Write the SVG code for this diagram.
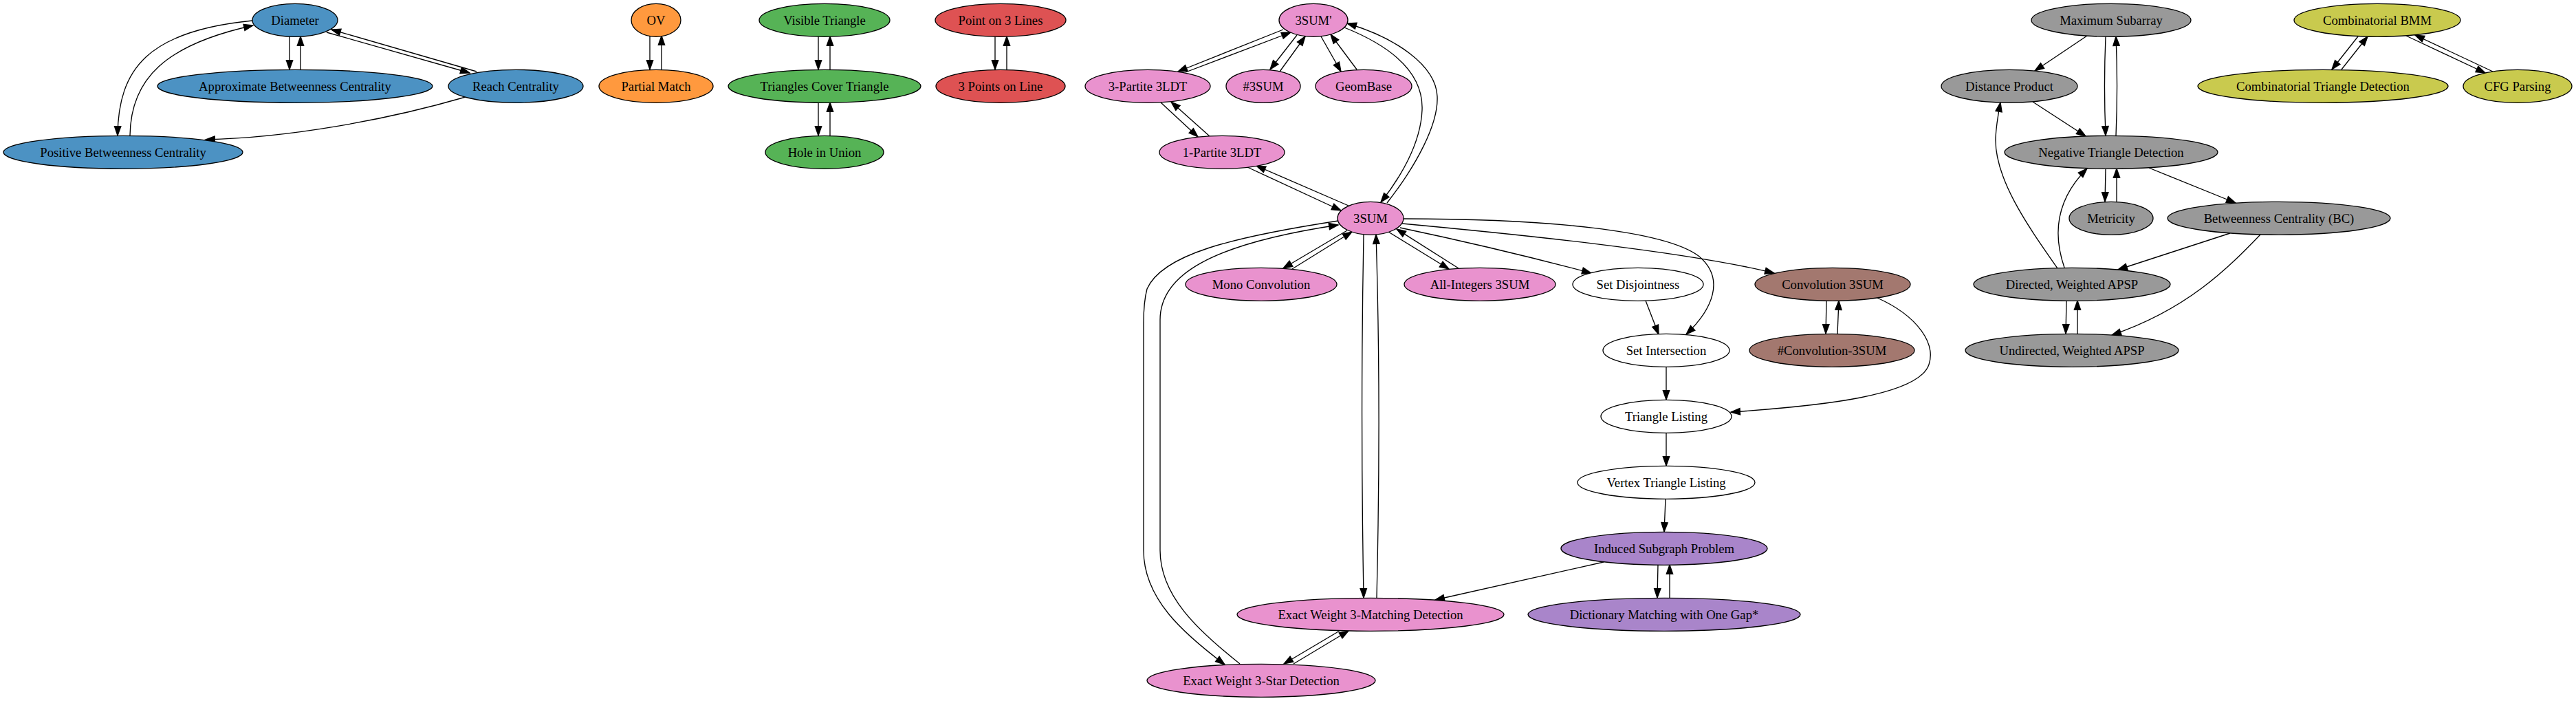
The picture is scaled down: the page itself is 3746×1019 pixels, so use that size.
<svg xmlns="http://www.w3.org/2000/svg" width="3746" height="1019" viewBox="0 0 3746 1019">
<style>
ellipse{stroke:#000;stroke-width:1.33}
text{font-family:"Liberation Serif","Times New Roman",serif;font-size:18.67px;text-anchor:middle;fill:#000}
.blue{fill:#4c92c3}.orange{fill:#ff993e}.green{fill:#56b356}.red{fill:#de5253}
.pink{fill:#e992ce}.brown{fill:#a3786f}.purple{fill:#a985ca}.gray{fill:#999999}
.olive{fill:#c9ca4e}.white{fill:#ffffff}
#edges path{fill:none;stroke:#000;stroke-width:1.33;marker-end:url(#ah)}
</style>
<defs>
<marker id="ah" markerUnits="userSpaceOnUse" markerWidth="16" markerHeight="12" viewBox="-1 -6 16 12" refX="13.33" refY="0" orient="auto" overflow="visible">
<path d="M0,-4.67 L13.33,0 L0,4.67 Z" fill="#000" stroke="#000" stroke-width="1.33"/>
</marker>
</defs>
<rect width="3746" height="1019" fill="#fff"/>
<g id="edges">
<path d="M421,53 L421,101"/>
<path d="M437,101 L437,53"/>
<path d="M475,47 L683,106"/>
<path d="M693,104 L482,43"/>
<path d="M367,30 C215,45 172,100 171,197"/>
<path d="M189,197 C190,115 240,65 368,37"/>
<path d="M677,141 C560,175 420,200 299,203"/>
<path d="M945,52 L945,101"/>
<path d="M962,101 L962,52"/>
<path d="M1190,53 L1190,101"/>
<path d="M1207,101 L1207,53"/>
<path d="M1190,149 L1190,197"/>
<path d="M1207,197 L1207,149"/>
<path d="M1447,53 L1447,101"/>
<path d="M1464,101 L1464,53"/>
<path d="M1866,43 L1713,104"/>
<path d="M1724,105 L1877,47"/>
<path d="M1886,51 L1847,101"/>
<path d="M1861,104 L1898,53"/>
<path d="M1921,53 L1950,104"/>
<path d="M1973,101 L1935,50"/>
<path d="M1688,149 L1742,199"/>
<path d="M1759,198 L1703,148"/>
<path d="M1814,243 L1950,306"/>
<path d="M1961,299 L1827,241"/>
<path d="M2017,295 C2060,240 2092,180 2090,140 C2088,95 2030,55 1959,34"/>
<path d="M1955,40 C2030,70 2070,110 2068,160 C2066,210 2035,260 2008,294"/>
<path d="M1959,335 L1866,390"/>
<path d="M1879,391 L1966,337"/>
<path d="M2019,337 L2107,391"/>
<path d="M2121,390 L2031,333"/>
<path d="M2036,331 C2150,355 2250,380 2314,397"/>
<path d="M2041,318 C2250,318 2420,335 2470,372 C2510,405 2490,450 2452,486"/>
<path d="M2039,325 C2200,340 2450,365 2580,397"/>
<path d="M2656,437 L2655,485"/>
<path d="M2672,485 L2674,437"/>
<path d="M2730,433 C2790,460 2815,500 2805,530 C2790,575 2650,590 2517,599"/>
<path d="M2393,437 L2412,486"/>
<path d="M2423,533 L2423,581"/>
<path d="M2423,629 L2423,677"/>
<path d="M2422,725 L2420,773"/>
<path d="M2411,821 L2410,869"/>
<path d="M2428,869 L2428,821"/>
<path d="M2332,817 L2087,872"/>
<path d="M1983,341 C1980,500 1980,700 1983,869"/>
<path d="M2002,869 C2006,700 2006,500 2001,341"/>
<path d="M1946,321 C1790,345 1690,370 1668,420 C1664,435 1663,450 1663,470 L1663,800 C1663,870 1720,920 1781,966"/>
<path d="M1803,965 C1740,915 1687,865 1687,800 L1687,465 C1687,400 1760,355 1946,327"/>
<path d="M1948,917 L1867,965"/>
<path d="M1881,965 L1961,917"/>
<path d="M3035,52 L2959,103"/>
<path d="M3062,53 C3060,100 3060,150 3062,197"/>
<path d="M3077,197 C3079,150 3079,100 3077,53"/>
<path d="M2956,148 L3033,198"/>
<path d="M2992,390 C2950,330 2900,260 2902,200 C2903,180 2906,165 2909,149"/>
<path d="M3002,389 C2985,340 2990,290 3035,245"/>
<path d="M3062,245 L3061,293"/>
<path d="M3078,293 L3078,245"/>
<path d="M3125,244 L3251,295"/>
<path d="M3243,339 L3080,392"/>
<path d="M3287,341 C3240,390 3180,450 3071,487"/>
<path d="M3005,437 L3004,485"/>
<path d="M3021,485 L3021,437"/>
<path d="M3429,53 L3391,101"/>
<path d="M3405,101 L3443,53"/>
<path d="M3499,52 L3614,106"/>
<path d="M3625,104 L3512,51"/>
</g>
<g id="n_diameter"><ellipse class="blue" cx="429" cy="29.3" rx="62" ry="24"/><text x="429" y="35.6">Diameter</text></g>
<g id="n_approx_bc"><ellipse class="blue" cx="429" cy="125.3" rx="200" ry="24"/><text x="429" y="131.6">Approximate Betweenness Centrality</text></g>
<g id="n_reach"><ellipse class="blue" cx="750" cy="125.3" rx="98" ry="24"/><text x="750" y="131.6">Reach Centrality</text></g>
<g id="n_positive_bc"><ellipse class="blue" cx="179" cy="221.3" rx="174" ry="24"/><text x="179" y="227.6">Positive Betweenness Centrality</text></g>
<g id="n_ov"><ellipse class="orange" cx="954" cy="29.3" rx="36" ry="24"/><text x="954" y="35.6">OV</text></g>
<g id="n_partial_match"><ellipse class="orange" cx="954" cy="125.3" rx="83" ry="24"/><text x="954" y="131.6">Partial Match</text></g>
<g id="n_visible_triangle"><ellipse class="green" cx="1199" cy="29.3" rx="95" ry="24"/><text x="1199" y="35.6">Visible Triangle</text></g>
<g id="n_triangles_cover"><ellipse class="green" cx="1199" cy="125.3" rx="140" ry="24"/><text x="1199" y="131.6">Triangles Cover Triangle</text></g>
<g id="n_hole_union"><ellipse class="green" cx="1199" cy="221.3" rx="86" ry="24"/><text x="1199" y="227.6">Hole in Union</text></g>
<g id="n_point_3lines"><ellipse class="red" cx="1455" cy="29.3" rx="95" ry="24"/><text x="1455" y="35.6">Point on 3 Lines</text></g>
<g id="n_3points_line"><ellipse class="red" cx="1455" cy="125.3" rx="94" ry="24"/><text x="1455" y="131.6">3 Points on Line</text></g>
<g id="n_3sum_prime"><ellipse class="pink" cx="1910" cy="29.3" rx="50" ry="24"/><text x="1910" y="35.6">3SUM'</text></g>
<g id="n_3partite"><ellipse class="pink" cx="1669" cy="125.3" rx="91" ry="24"/><text x="1669" y="131.6">3-Partite 3LDT</text></g>
<g id="n_count3sum"><ellipse class="pink" cx="1837" cy="125.3" rx="54" ry="24"/><text x="1837" y="131.6">#3SUM</text></g>
<g id="n_geombase"><ellipse class="pink" cx="1983" cy="125.3" rx="70" ry="24"/><text x="1983" y="131.6">GeomBase</text></g>
<g id="n_1partite"><ellipse class="pink" cx="1777" cy="221.3" rx="91" ry="24"/><text x="1777" y="227.6">1-Partite 3LDT</text></g>
<g id="n_3sum"><ellipse class="pink" cx="1993" cy="317.3" rx="48" ry="24"/><text x="1993" y="323.6">3SUM</text></g>
<g id="n_mono_conv"><ellipse class="pink" cx="1834" cy="413.3" rx="110" ry="24"/><text x="1834" y="419.6">Mono Convolution</text></g>
<g id="n_allint_3sum"><ellipse class="pink" cx="2152" cy="413.3" rx="110" ry="24"/><text x="2152" y="419.6">All-Integers 3SUM</text></g>
<g id="n_ew3match"><ellipse class="pink" cx="1993" cy="893.3" rx="194" ry="24"/><text x="1993" y="899.6">Exact Weight 3-Matching Detection</text></g>
<g id="n_ew3star"><ellipse class="pink" cx="1834" cy="989.3" rx="166" ry="24"/><text x="1834" y="995.6">Exact Weight 3-Star Detection</text></g>
<g id="n_set_disj"><ellipse class="white" cx="2382" cy="413.3" rx="95" ry="24"/><text x="2382" y="419.6">Set Disjointness</text></g>
<g id="n_set_inter"><ellipse class="white" cx="2423" cy="509.3" rx="92" ry="24"/><text x="2423" y="515.6">Set Intersection</text></g>
<g id="n_tri_list"><ellipse class="white" cx="2423" cy="605.3" rx="95" ry="24"/><text x="2423" y="611.6">Triangle Listing</text></g>
<g id="n_vtx_tri_list"><ellipse class="white" cx="2423" cy="701.3" rx="129" ry="24"/><text x="2423" y="707.6">Vertex Triangle Listing</text></g>
<g id="n_conv3sum"><ellipse class="brown" cx="2665" cy="413.3" rx="113" ry="24"/><text x="2665" y="419.6">Convolution 3SUM</text></g>
<g id="n_count_conv3sum"><ellipse class="brown" cx="2664" cy="509.3" rx="120" ry="24"/><text x="2664" y="515.6">#Convolution-3SUM</text></g>
<g id="n_induced"><ellipse class="purple" cx="2420" cy="797.3" rx="150" ry="24"/><text x="2420" y="803.6">Induced Subgraph Problem</text></g>
<g id="n_dict_match"><ellipse class="purple" cx="2420" cy="893.3" rx="198" ry="24"/><text x="2420" y="899.6">Dictionary Matching with One Gap*</text></g>
<g id="n_max_subarray"><ellipse class="gray" cx="3070" cy="29.3" rx="116" ry="24"/><text x="3070" y="35.6">Maximum Subarray</text></g>
<g id="n_dist_product"><ellipse class="gray" cx="2922" cy="125.3" rx="99" ry="24"/><text x="2922" y="131.6">Distance Product</text></g>
<g id="n_neg_tri"><ellipse class="gray" cx="3070" cy="221.3" rx="155" ry="24"/><text x="3070" y="227.6">Negative Triangle Detection</text></g>
<g id="n_metricity"><ellipse class="gray" cx="3070" cy="317.3" rx="61" ry="24"/><text x="3070" y="323.6">Metricity</text></g>
<g id="n_bc"><ellipse class="gray" cx="3314" cy="317.3" rx="162" ry="24"/><text x="3314" y="323.6">Betweenness Centrality (BC)</text></g>
<g id="n_dir_apsp"><ellipse class="gray" cx="3013" cy="413.3" rx="143" ry="24"/><text x="3013" y="419.6">Directed, Weighted APSP</text></g>
<g id="n_undir_apsp"><ellipse class="gray" cx="3013" cy="509.3" rx="155" ry="24"/><text x="3013" y="515.6">Undirected, Weighted APSP</text></g>
<g id="n_comb_bmm"><ellipse class="olive" cx="3457" cy="29.3" rx="121" ry="24"/><text x="3457" y="35.6">Combinatorial BMM</text></g>
<g id="n_comb_tri"><ellipse class="olive" cx="3378" cy="125.3" rx="182" ry="24"/><text x="3378" y="131.6">Combinatorial Triangle Detection</text></g>
<g id="n_cfg"><ellipse class="olive" cx="3661" cy="125.3" rx="79" ry="24"/><text x="3661" y="131.6">CFG Parsing</text></g>
</svg>
